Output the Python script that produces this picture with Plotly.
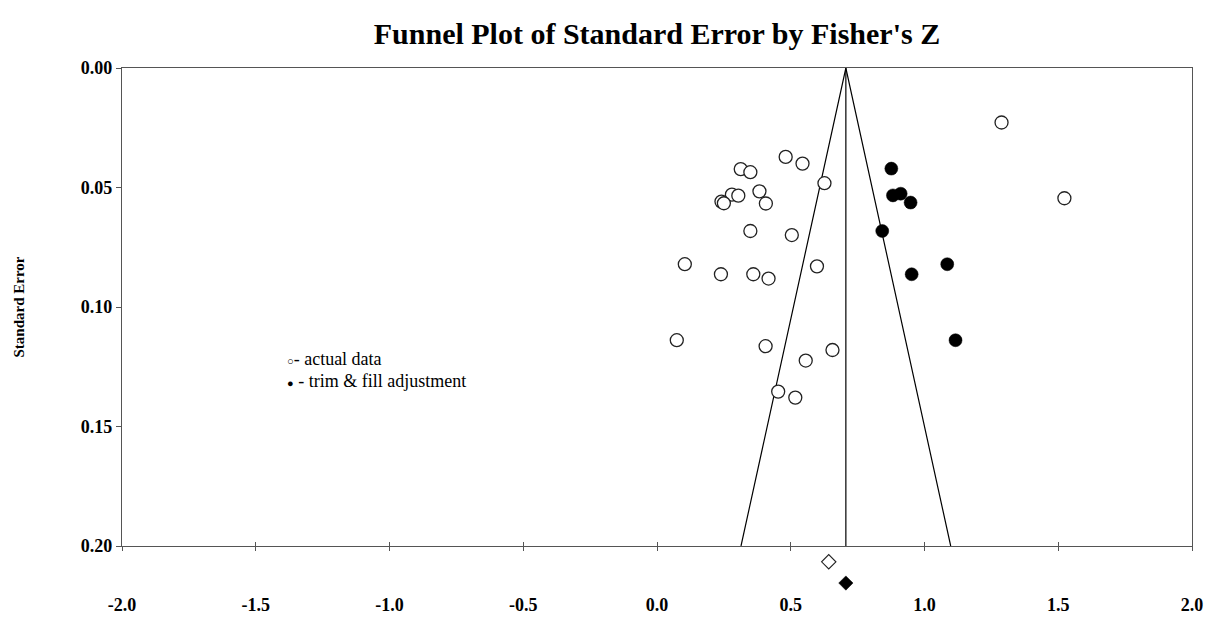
import plotly.graph_objects as go

# Observed studies (Fisher's Z, standard error)
observed_z = [0.481, 0.544, 0.313, 0.349, 0.626, 0.383, 0.280, 0.304, 0.241,
              0.250, 0.407, 0.349, 0.504, 0.104, 0.239, 0.360, 0.417, 0.598,
              0.074, 0.406, 0.656, 0.556, 0.453, 0.517, 1.288, 1.523]
observed_se = [0.0372, 0.0400, 0.0423, 0.0436, 0.0482, 0.0516, 0.0530, 0.0534,
               0.0559, 0.0566, 0.0567, 0.0682, 0.0699, 0.0821, 0.0863, 0.0863,
               0.0881, 0.0830, 0.1139, 0.1164, 0.1180, 0.1224, 0.1354, 0.1379,
               0.0228, 0.0545]

# Imputed studies from trim & fill
imputed_z = [0.876, 0.882, 0.911, 0.948, 0.842, 1.085, 0.952, 1.116]
imputed_se = [0.0421, 0.0533, 0.0526, 0.0563, 0.0682, 0.0821, 0.0863, 0.1139]

# Pooled estimates shown under the axis
observed_pooled = 0.642
adjusted_pooled = 0.706
observed_pooled_row = 0.2066
adjusted_pooled_row = 0.2155

# Funnel: pseudo 95% limits around the adjusted estimate
funnel_center = 0.706
funnel_z = 1.96
se_max = 0.20

x_ticks = [-2.0, -1.5, -1.0, -0.5, 0.0, 0.5, 1.0, 1.5, 2.0]
y_ticks = [0.00, 0.05, 0.10, 0.15, 0.20]

SERIF = "Liberation Serif, Times New Roman, serif"
W, H = 1210, 617
M_L, M_R, M_T, M_B = 122, 18, 68, 10
AXIS_PX = 546            # pixel row of the SE = 0.20 axis line

plot_h = H - M_T - M_B
plot_w = W - M_L - M_R
y_domain_bottom = (H - M_B - AXIS_PX) / plot_h
# an auxiliary y axis spanning the full height, same SE scale, for the
# pooled-estimate diamonds drawn beneath the main axis
se_per_px = se_max / (AXIS_PX - M_T)
y2_bottom = plot_h * se_per_px

fig = go.Figure()

# funnel sides and centre line
fig.add_trace(go.Scatter(
    x=[funnel_center - funnel_z * se_max, funnel_center, funnel_center + funnel_z * se_max],
    y=[se_max, 0.0, se_max],
    mode="lines", line=dict(color="black", width=1.2),
    hoverinfo="skip", showlegend=False))
fig.add_trace(go.Scatter(
    x=[funnel_center, funnel_center], y=[0.0, se_max],
    mode="lines", line=dict(color="black", width=1.2),
    hoverinfo="skip", showlegend=False))

fig.add_trace(go.Scatter(
    x=observed_z, y=observed_se, mode="markers",
    marker=dict(symbol="circle", size=13, color="white",
                line=dict(color="#222", width=1.3)),
    showlegend=False))
fig.add_trace(go.Scatter(
    x=imputed_z, y=imputed_se, mode="markers",
    marker=dict(symbol="circle", size=13, color="black",
                line=dict(color="black", width=0.5)),
    showlegend=False))

# pooled estimates
fig.add_trace(go.Scatter(
    x=[observed_pooled], y=[observed_pooled_row], yaxis="y2", mode="markers",
    marker=dict(symbol="diamond", size=11, color="white",
                line=dict(color="#222", width=1.1)),
    showlegend=False))
fig.add_trace(go.Scatter(
    x=[adjusted_pooled], y=[adjusted_pooled_row], yaxis="y2", mode="markers",
    marker=dict(symbol="diamond", size=11, color="black",
                line=dict(color="black", width=0.5)),
    showlegend=False))

# invisible trace carrying the inner half of the x tick marks
fig.add_trace(go.Scatter(x=[0.0], y=[0.1], xaxis="x2", mode="markers",
                         marker=dict(opacity=0), hoverinfo="skip",
                         showlegend=False))

fig.update_layout(
    width=W, height=H,
    margin=dict(l=M_L, r=M_R, t=M_T, b=M_B, autoexpand=False),
    paper_bgcolor="white", plot_bgcolor="rgba(0,0,0,0)",
    title=dict(text="<b>Funnel Plot of Standard Error by Fisher's Z</b>",
               x=0.5, xref="paper", y=0.945, yref="container",
               xanchor="center", yanchor="middle",
               font=dict(family=SERIF, size=30, color="black")),
    xaxis=dict(range=[-2.0, 2.0], tickvals=x_ticks,
               ticktext=[f"<b>{v:.1f}</b>" for v in x_ticks],
               anchor="y",
               showgrid=False, zeroline=False, automargin=False,
               showline=True, linecolor="#555", linewidth=1.2, mirror=True,
               ticks="outside", ticklen=4, tickcolor="#555", tickwidth=1,
               ticklabelstandoff=38,
               tickfont=dict(family=SERIF, size=18, color="black")),
    xaxis2=dict(range=[-2.0, 2.0], overlaying="x", matches="x", anchor="y",
                tickvals=x_ticks, showticklabels=False, showgrid=False,
                zeroline=False, showline=False, automargin=False,
                ticks="inside", ticklen=4, tickcolor="#555", tickwidth=1),
    yaxis=dict(range=[se_max, 0.0], domain=[y_domain_bottom, 1.0],
               tickvals=y_ticks,
               ticktext=[f"<b>{v:.2f}</b>" for v in y_ticks],
               showgrid=False, zeroline=False, automargin=False,
               showline=True, linecolor="#555", linewidth=1.2, mirror=True,
               ticks="outside", ticklen=5, tickcolor="#555", tickwidth=1,
               tickfont=dict(family=SERIF, size=18, color="black"),
               title=dict(text="<b>Standard Error</b>", standoff=52,
                          font=dict(family=SERIF, size=15, color="black"))),
    yaxis2=dict(range=[y2_bottom, 0.0], domain=[0.0, 1.0], anchor="x",
                visible=False, showgrid=False, zeroline=False),
)

# key text, positioned in pixels
key_lines = [
    ("<span style='font-size:11px'>○</span>- actual data", 359),
    ("<span style='font-size:11px'>●</span> - trim &amp; fill adjustment", 381),
]
for text, py in key_lines:
    fig.add_annotation(
        text=text, x=(285 - M_L) / plot_w, y=(H - M_B - py) / plot_h,
        xref="paper", yref="paper", showarrow=False,
        xanchor="left", yanchor="middle",
        font=dict(family=SERIF, size=18, color="black"))

fig.write_html("out.html")
